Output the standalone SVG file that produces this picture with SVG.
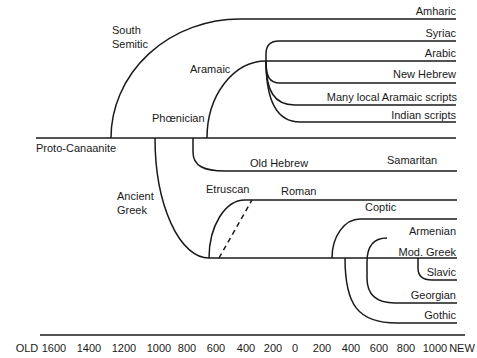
<svg xmlns="http://www.w3.org/2000/svg" width="477" height="358" viewBox="0 0 477 358">
<style>
.c{fill:none;stroke:#1a1a1a;stroke-width:1.5}
.d{stroke-dasharray:5,4}
text{font-family:"Liberation Sans",Arial,sans-serif;font-size:11px;fill:#1a1a1a}
.r{text-anchor:end}
.m{text-anchor:middle}
</style>
<rect width="477" height="358" fill="#fff"/>
<g id="connectors">
<path class="c" d="M36,138 L456,138"/>
<path id="south-semitic" class="c" d="M111,138 A129,119 0 0 1 240,19 L456,19"/>
<path id="aramaic" class="c" d="M207,138 A59,77 0 0 1 266,61 L456,61"/>
<path class="c" d="M266,62 L266,54 C266,45 270,41 279,41 L456,41"/>
<path class="c" d="M266,61 C266,76 269,83 280,83 L456,83"/>
<path class="c" d="M266,61 C266,91 274,105 295,105 L456,105"/>
<path class="c" d="M266,61 C266,102 277,122 300,122 L456,122"/>
<path class="c" d="M193,138 L193,152 C193,166 204,171 225,171 L457,171"/>
<path class="c" d="M155,138 A54,120 0 0 0 209,258 L457,258"/>
<path class="c" d="M209,258 A36,58 0 0 1 245,200 L457,200"/>
<path class="c d" d="M219,258 L252,200"/>
<path class="c" d="M332,258 A28,39 0 0 1 360,219 L457,219"/>
<path class="c" d="M387,238 C374,238 367,245 367,262 L367,278 C367,295 376,303 395,303 L457,303"/>
<path class="c" d="M345,258 C345,305 358,323 397,323 L457,323"/>
<path class="c" d="M418,258 L418,268 C418,276 423,280 432,280 L457,280"/>
<path class="c" stroke-width="2" d="M40,335 L465,335"/>
</g>
<g id="n-proto"><text x="36" y="152">Proto-Canaanite</text></g>
<g id="n-southsemitic"><text x="112" y="34">South</text><text x="112" y="48">Semitic</text></g>
<g id="n-aramaic"><text x="190" y="73">Aramaic</text></g>
<g id="n-phoenician"><text x="152" y="122">Phœnician</text></g>
<g id="n-ancientgreek"><text x="117" y="200">Ancient</text><text x="117" y="214">Greek</text></g>
<g id="n-amharic"><text class="r" x="456" y="15">Amharic</text></g>
<g id="n-syriac"><text class="r" x="456" y="37">Syriac</text></g>
<g id="n-arabic"><text class="r" x="456" y="57">Arabic</text></g>
<g id="n-newhebrew"><text class="r" x="456" y="78">New Hebrew</text></g>
<g id="n-manylocal"><text class="r" x="457" y="101">Many local Aramaic scripts</text></g>
<g id="n-indian"><text class="r" x="456" y="119">Indian scripts</text></g>
<g id="n-oldhebrew"><text x="250" y="167">Old Hebrew</text></g>
<g id="n-samaritan"><text x="387" y="164">Samaritan</text></g>
<g id="n-etruscan"><text x="206" y="193">Etruscan</text></g>
<g id="n-roman"><text x="281" y="195">Roman</text></g>
<g id="n-coptic"><text x="365" y="211">Coptic</text></g>
<g id="n-armenian"><text class="r" x="456" y="235">Armenian</text></g>
<g id="n-modgreek"><text class="r" x="456" y="256">Mod. Greek</text></g>
<g id="n-slavic"><text class="r" x="456" y="276">Slavic</text></g>
<g id="n-georgian"><text class="r" x="456" y="299">Georgian</text></g>
<g id="n-gothic"><text class="r" x="456" y="319">Gothic</text></g>
<g id="axis">
<text class="m" x="27" y="352">OLD</text>
<text class="m" x="54" y="352">1600</text>
<text class="m" x="89" y="352">1400</text>
<text class="m" x="124" y="352">1200</text>
<text class="m" x="159" y="352">1000</text>
<text class="m" x="187" y="352">800</text>
<text class="m" x="216" y="352">600</text>
<text class="m" x="246" y="352">400</text>
<text class="m" x="273" y="352">200</text>
<text class="m" x="295" y="352">0</text>
<text class="m" x="322" y="352">200</text>
<text class="m" x="351" y="352">400</text>
<text class="m" x="379" y="352">600</text>
<text class="m" x="406" y="352">800</text>
<text class="m" x="435" y="352">1000</text>
<text class="m" x="462" y="352">NEW</text>
</g>
</svg>
